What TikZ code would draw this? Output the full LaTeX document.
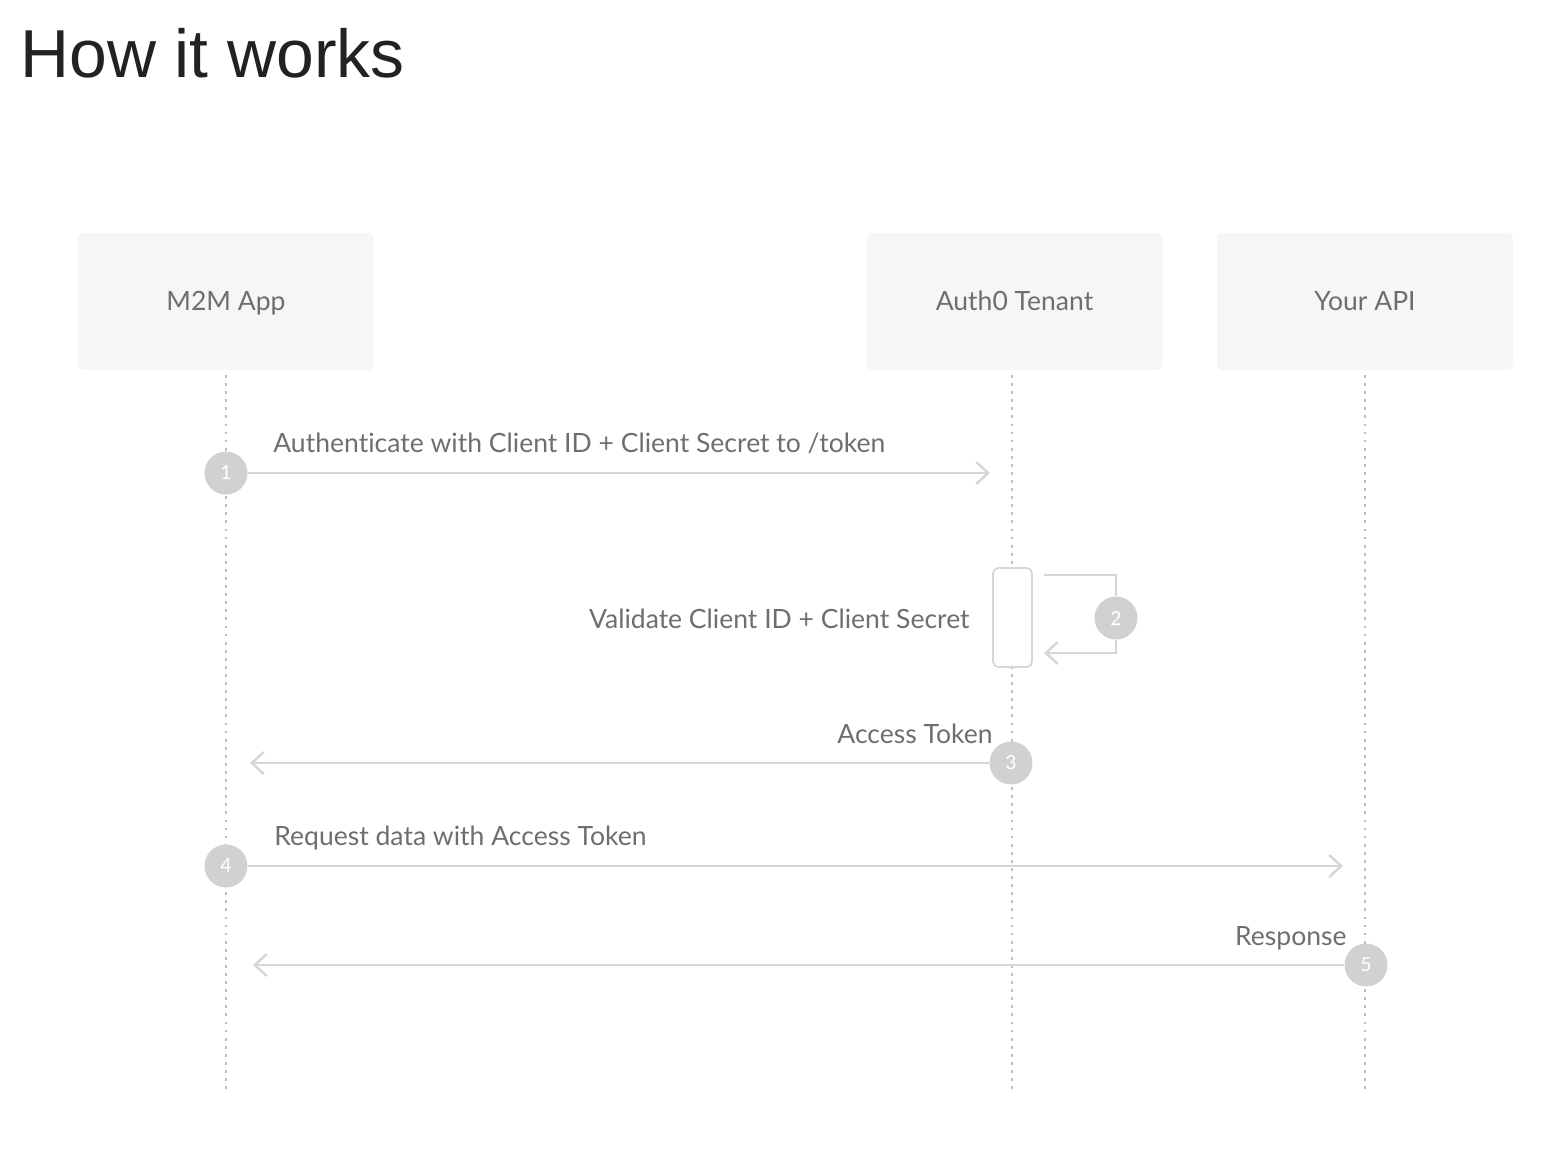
\documentclass[tikz,border=0pt]{standalone}
\usepackage{fontspec}
\setmainfont{Lato}[Ligatures=NoCommon]
\newfontfamily\titlefont{Liberation Sans}
\usetikzlibrary{arrows.meta,positioning}

\definecolor{boxfill}{HTML}{F5F6F8}
\definecolor{labelgray}{HTML}{6E6E6E}
\definecolor{linegray}{HTML}{D5D6D8}
\definecolor{dotgray}{HTML}{BDBDBD}
\definecolor{stepgray}{HTML}{D0D1D3}
\definecolor{titleblack}{HTML}{222222}

\tikzset{
  actor/.style={fill=boxfill, rounded corners=3pt, minimum width=5.92cm, minimum height=2.74cm,
    text=labelgray, text height=10pt, text depth=0pt, font=\fontsize{15.1}{18}\selectfont},
  lifeline/.style={dotgray, line width=1.2pt, dash pattern=on 1.6pt off 3pt},
  msg/.style={linegray, line width=1.6pt, -{Straight Barb[length=2.4mm,width=4.4mm,line width=1.4pt]}},
  stepnum/.style={circle, fill=stepgray, minimum size=0.86cm, inner sep=0pt, text=white,
    font=\fontsize{11}{13}\selectfont},
  msglabel/.style={text=labelgray, font=\fontsize{15.1}{18}\selectfont, inner sep=0pt},
}

\begin{document}
\begin{tikzpicture}[x=0.02cm, y=-0.02cm]
        \useasboundingbox (0,0) rectangle (1562,1150);
        \node[anchor=base west, inner sep=0pt, text=titleblack, font=\titlefont\fontsize{38.6}{44}\selectfont] (title) at (20,77) {How it works};

        % actors
        \node[actor] (app) at (226,301.5) {M2M App};
        \node[actor] (tenant) at (1014.5,301.5) {Auth0 Tenant};
        \node[actor] (api) at (1365,301.5) {Your API};

        % lifelines
        \coordinate (app end) at (226,1090);
        \coordinate (tenant end) at (1012,1090);
        \coordinate (api end) at (1365,1090);
        \draw[lifeline] (226,375) -- (app end);
        \draw[lifeline] (1012,375) -- (tenant end);
        \draw[lifeline] (1365,375) -- (api end);

        % 1
        \node[stepnum] (s1) at (226,473) {1};
        \coordinate (a1) at (990,473);
        \draw[msg] (s1) -- (a1);
        \node[msglabel, anchor=base west] (l1) at (273,452) {Authenticate with Client ID + Client Secret to /token};

        % 2
        \node[draw=linegray, fill=white, line width=1pt, rounded corners=3pt, minimum width=0.78cm, minimum height=1.98cm] (act) at (1012.5,617.5) {};
        \node[stepnum] (s2) at (1116,618) {2};
        \coordinate (self top) at (1044,575);
        \coordinate (self bot) at (1044,653);
        \draw[linegray, line width=1.6pt] (self top) -| (s2);
        \draw[msg] (s2) |- (self bot);
        \node[msglabel, anchor=base east] (l2) at (970,628) {Validate Client ID + Client Secret};

        % 3
        \node[stepnum] (s3) at (1011,763) {3};
        \coordinate (a3) at (250,763);
        \draw[msg] (s3) -- (a3);
        \node[msglabel, anchor=base east] (l3) at (993,743) {Access Token};

        % 4
        \node[stepnum] (s4) at (226,866) {4};
        \coordinate (a4) at (1343,866);
        \draw[msg] (s4) -- (a4);
        \node[msglabel, anchor=base west] (l4) at (274,845) {Request data with Access Token};

        % 5
        \node[stepnum] (s5) at (1366,965) {5};
        \coordinate (a5) at (253,965);
        \draw[msg] (s5) -- (a5);
        \node[msglabel, anchor=base east] (l5) at (1347,945) {Response};
\end{tikzpicture}
\end{document}
